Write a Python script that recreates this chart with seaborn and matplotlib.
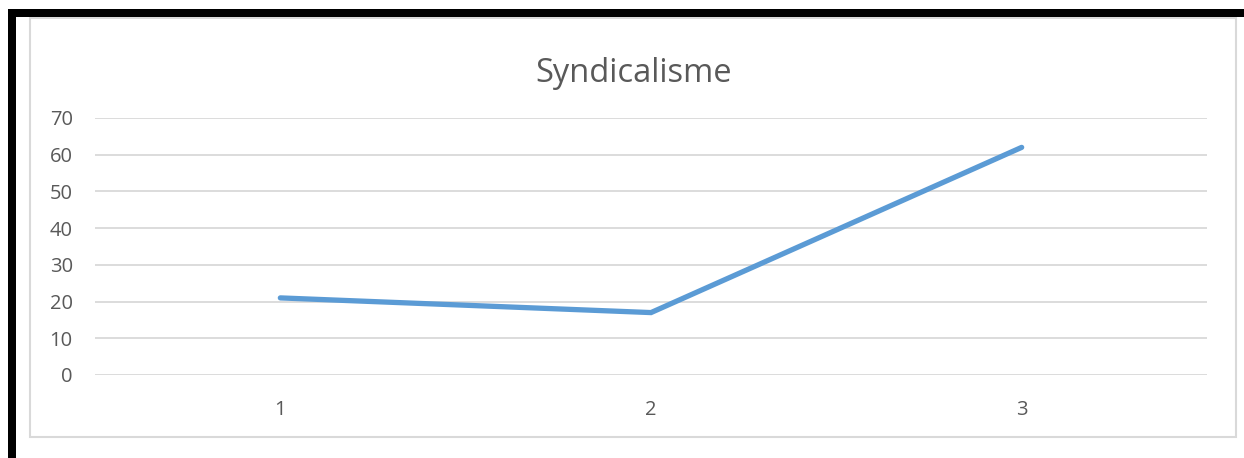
import matplotlib
matplotlib.use("Agg")
import matplotlib.pyplot as plt
from matplotlib.patches import Rectangle
import pandas as pd
import seaborn as sns

categories = ["1", "2", "3"]
values = [21, 17, 62]
y_ticks = [0, 10, 20, 30, 40, 50, 60, 70]
title = "Syndicalisme"

sns.set_theme(style="white")
plt.rcParams["font.family"] = ["Open Sans", "DejaVu Sans"]

W, H = 1244, 458
fig = plt.figure(figsize=(W / 100, H / 100), dpi=100)
fig.patch.set_facecolor("white")

# plot area in pixel coordinates
left, right, top, bottom = 95, 1207, 118, 375
ax = fig.add_axes([left / W, 1 - bottom / H, (right - left) / W, (bottom - top) / H])

df = pd.DataFrame({"x": range(len(categories)), "y": values})
sns.lineplot(data=df, x="x", y="y", ax=ax, color="#5B9BD5", linewidth=3.8,
             solid_capstyle="round", solid_joinstyle="miter")

ax.set_xlim(-0.5, len(categories) - 0.5)
ax.set_ylim(0, 70)
ax.set_yticks(y_ticks)
ax.set_xticks(range(len(categories)))
ax.set_xticklabels(categories)
ax.yaxis.grid(True, color="#D9D9D9", linewidth=1.3)
ax.set_axisbelow(True)
for s in ax.spines.values():
    s.set_visible(False)
ax.tick_params(axis="y", length=0, pad=16, labelsize=14.5, labelcolor="#595959")
ax.tick_params(axis="x", length=0, pad=18, labelsize=14.5, labelcolor="#595959")
ax.set_xlabel("")
ax.set_ylabel("")

fig.text(634 / W, 1 - 73 / H, title, ha="center", va="center",
         fontsize=23.5, color="#595959")

# outer chart frame
fig.patches.append(Rectangle((30 / W, 1 - 437 / H), (1236 - 30) / W, (437 - 18) / H,
                             transform=fig.transFigure, fill=False,
                             edgecolor="#D9D9D9", linewidth=1.5))
# black border at top and left
fig.patches.append(Rectangle((8 / W, 1 - 17 / H), (W - 8) / W, 8 / H,
                             transform=fig.transFigure, color="black", linewidth=0))
fig.patches.append(Rectangle((8 / W, 0), 8 / W, 1 - 9 / H,
                             transform=fig.transFigure, color="black", linewidth=0))

fig.savefig("out.png", dpi=100)
